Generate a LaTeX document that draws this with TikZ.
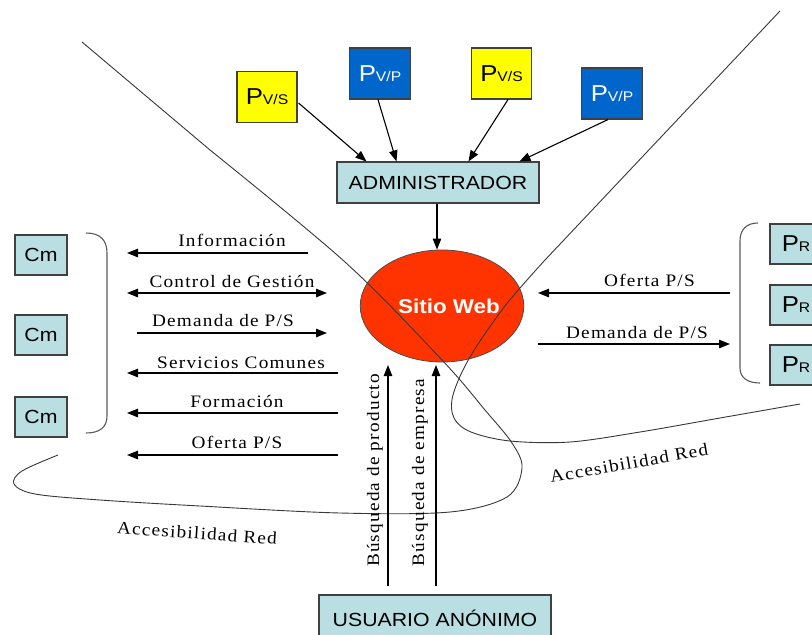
\documentclass[tikz,border=0pt]{standalone}
\usepackage{fontspec}
\setmainfont{Liberation Serif}
\newfontfamily\boxf[FakeStretch=1.12]{Liberation Sans}
\newfontfamily\lblf[FakeStretch=1.1,LetterSpace=7]{Liberation Serif}
\usetikzlibrary{arrows.meta,shapes.geometric,calc}
\definecolor{boxteal}{RGB}{185,223,226}
\definecolor{pyellow}{RGB}{255,255,0}
\definecolor{pblue}{RGB}{0,102,204}
\definecolor{webred}{RGB}{255,51,0}
\definecolor{linegray}{RGB}{64,64,64}
\newcommand{\pvs}{{\fontsize{23}{23}\selectfont P}{\fontsize{14}{14}\selectfont V/S}}
\newcommand{\pvp}{{\fontsize{23}{23}\selectfont P}{\fontsize{14}{14}\selectfont V/P}}
\newcommand{\prr}{{\fontsize{23}{23}\selectfont P}{\fontsize{14}{14}\selectfont R}}
\begin{document}
\begin{tikzpicture}[x=1pt,y=-1pt,
  box/.style={draw=linegray,line width=1.1pt,inner sep=0pt,font=\boxf\fontsize{19}{19}\selectfont},
  tealbox/.style={box,fill=boxteal},
  ybox/.style={box,fill=pyellow,minimum width=60pt,minimum height=51pt},
  bbox/.style={box,fill=pblue,text=white,minimum width=61pt,minimum height=51pt},
  cmbox/.style={tealbox,minimum width=52pt,minimum height=40pt,font=\boxf\fontsize{19}{19}\selectfont},
  arr/.style={-{Triangle[length=11pt,width=8.5pt]},line width=1.1pt},
  dbl/.style={{Triangle[length=11pt,width=8.5pt]}-{Triangle[length=11pt,width=8.5pt]},line width=1.1pt},
  lbl/.style={font=\lblf\fontsize{17.5}{17.5}\selectfont,inner sep=0pt},
  curve/.style={draw=black!78,line width=0.9pt},
  bracket/.style={draw=black!65,line width=1.1pt}
]
\useasboundingbox (0,0) rectangle (812,635);
\fill[white] (0,0) rectangle (812,635);

% provider boxes
\node[ybox] (y1) at (267,97) {\pvs};
\node[bbox] (b1) at (380,73.5) {\pvp};
\node[ybox] (y2) at (501.5,73.5) {\pvs};
\node[bbox] (b2) at (612,93.5) {\pvp};

\node[tealbox,minimum width=202pt,minimum height=41pt] (admin) at (438,182.5) {ADMINISTRADOR};

\node[ellipse,fill=webred,draw=black!70,line width=0.8pt,minimum width=162pt,minimum height=112pt,inner sep=0pt,
      font=\boxf\fontsize{20}{20}\selectfont\bfseries,text=white] (web) at (442,306) {\hspace*{14pt}Sitio Web};

\node[cmbox] (cm1) at (41,255) {Cm};
\node[cmbox] (cm2) at (41,335) {Cm};
\node[cmbox] (cm3) at (41,417) {Cm};

\node[cmbox] (pr1) at (796,244) {\prr};
\node[cmbox] (pr2) at (796,305) {\prr};
\node[cmbox] (pr3) at (796,365) {\prr};

\node[tealbox,minimum width=232pt,minimum height=50pt] (user) at (435,620) {};
\node[font=\boxf\fontsize{19}{19}\selectfont,inner sep=0pt] (usertxt) at (435,618) {USUARIO ANÓNIMO};

% network curves
\draw[curve] (82,42) -- plot[smooth,tension=0.55] coordinates {(210,150) (345,262) (442,360) (485,410) (512,443) (522,468) (507,497) (450,512) (340,513) (200,506) (100,500) (35,494) (14,484) (22,471) (58,455)};
\draw[curve] (780,11) -- plot[smooth,tension=0.55] coordinates {(545,260) (505,306) (470,357) (453,395) (454,418) (471,432) (510,441) (570,442) (640,432) (720,418) (800,404)};

% brackets
\draw[bracket] (86,233) .. controls (100,233) and (107,240) .. (107,253) -- (107,416) .. controls (107,427) and (100,433) .. (86,433);
\draw[bracket] (758,223) .. controls (746,223) and (740,230) .. (740,241) -- (740,368) .. controls (740,378) and (748,383) .. (760,383);

% arrows into administrator
\draw[arr] ($(y1.east)+(1,6)$) -- ($(admin.north west)+(30,0)$);
\draw[arr] ($(b1.south)+(-2,0)$) -- ($(admin.north west)+(60,0)$);
\draw[arr] ($(y2.south)+(6.5,0)$) -- ($(admin.north west)+(132,0)$);
\draw[arr] ($(b2.south)+(-4,0)$) -- ($(admin.north west)+(183,0)$);
\coordinate (adm) at ($(admin.south)+(-1,0)$);
\draw[arr] (adm) -- (adm |- web.north);

% left arrows
\coordinate (l1a) at (308,253); \coordinate (l1b) at (127,253);
\coordinate (l2a) at (127,293); \coordinate (l2b) at (327,293);
\coordinate (l3a) at (137,333); \coordinate (l3b) at (327,333);
\coordinate (l4a) at (338,373); \coordinate (l4b) at (127,373);
\coordinate (l5a) at (338,413); \coordinate (l5b) at (127,413);
\coordinate (l6a) at (338,455); \coordinate (l6b) at (127,455);
\draw[arr] (l1a) -- (l1b);
\draw[dbl] (l2a) -- (l2b);
\draw[arr] (l3a) -- (l3b);
\draw[arr] (l4a) -- (l4b);
\draw[arr] (l5a) -- (l5b);
\draw[arr] (l6a) -- (l6b);
\node[lbl,anchor=base] (t1) at (232,246.7) {Información};
\node[lbl,anchor=base] (t2) at (232,287.7) {Control de Gestión};
\node[lbl,anchor=base] (t3) at (223,326.7) {Demanda de P/S};
\node[lbl,anchor=base] (t4) at (241,368.3) {Servicios Comunes};
\node[lbl,anchor=base] (t5) at (237,407.7) {Formación};
\node[lbl,anchor=base] (t6) at (237,448.3) {Oferta P/S};

% right arrows
\coordinate (r1a) at (730,293); \coordinate (r1b) at (538,293);
\coordinate (r2a) at (538,344); \coordinate (r2b) at (730,344);
\draw[arr] (r1a) -- (r1b);
\draw[arr] (r2a) -- (r2b);
\node[lbl,anchor=base] (t7) at (649.5,286.7) {Oferta P/S};
\node[lbl,anchor=base] (t8) at (637,338.3) {Demanda de P/S};

% vertical arrows from user
\coordinate (v1a) at (388,586); \coordinate (v1b) at (388,365);
\coordinate (v2a) at (436,586); \coordinate (v2b) at (436,365);
\draw[arr] (v1a) -- (v1b);
\draw[arr] (v2a) -- (v2b);
\node[lbl,rotate=90] (t9) at (375,470.5) {Búsqueda de producto};
\node[lbl,rotate=90] (t10) at (420,472.5) {Búsqueda de empresa};

% accessibility labels
\node[lbl,rotate=-4] (acc1) at (197,533) {Accesibilidad Red};
\node[lbl,rotate=10] (acc2) at (629,463) {Accesibilidad Red};
\end{tikzpicture}
\end{document}
